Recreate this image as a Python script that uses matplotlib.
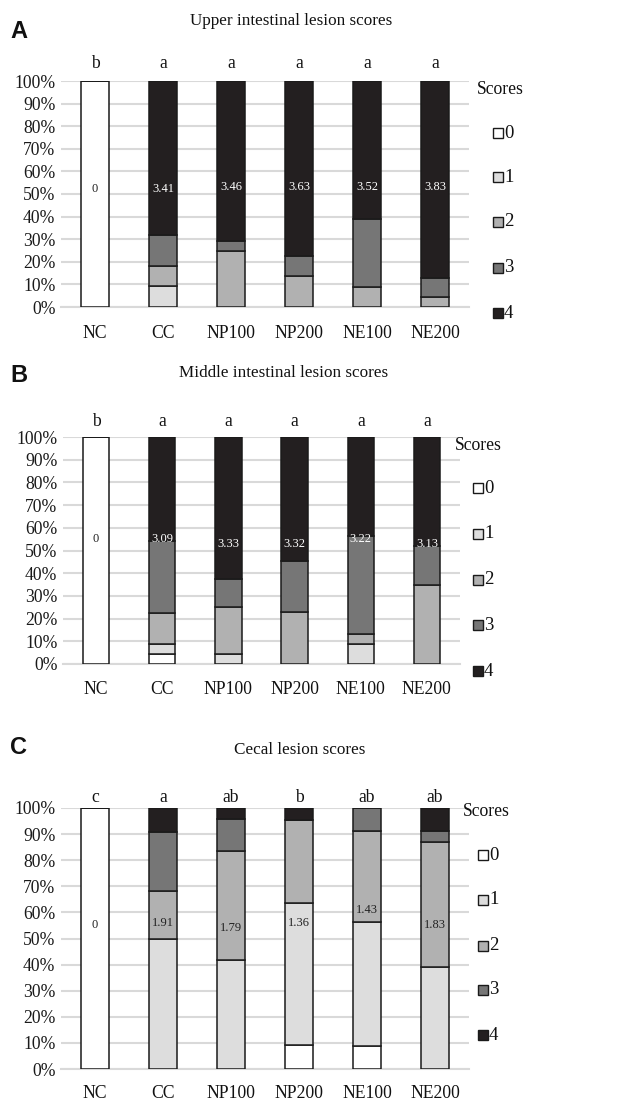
import matplotlib
matplotlib.use("Agg")
import matplotlib.pyplot as plt
from matplotlib.patches import Rectangle
import numpy as np

W, H = 642, 1103

groups = ["NC", "CC", "NP100", "NP200", "NE100", "NE200"]
scores = ["0", "1", "2", "3", "4"]

# percent of birds per score (0..4) for each group
upper_s0 = [100, 0, 0, 0, 0, 0]
upper_s1 = [0, 9.1, 0, 0, 0, 0]
upper_s2 = [0, 9.1, 25.0, 13.6, 8.7, 4.3]
upper_s3 = [0, 13.6, 4.2, 9.1, 30.4, 8.7]
upper_s4 = [0, 68.2, 70.8, 77.3, 60.9, 87.0]
upper_means = ["0", "3.41", "3.46", "3.63", "3.52", "3.83"]
upper_letters = ["b", "a", "a", "a", "a", "a"]

middle_s0 = [100, 4.5, 0, 0, 0, 0]
middle_s1 = [0, 4.5, 4.2, 0, 8.7, 0]
middle_s2 = [0, 13.6, 20.8, 22.7, 4.3, 34.8]
middle_s3 = [0, 31.8, 12.5, 22.7, 43.5, 17.4]
middle_s4 = [0, 45.5, 62.5, 54.5, 43.5, 47.8]
middle_means = ["0", "3.09", "3.33", "3.32", "3.22", "3.13"]
middle_letters = ["b", "a", "a", "a", "a", "a"]

cecal_s0 = [100, 0, 0, 9.1, 8.7, 0]
cecal_s1 = [0, 50.0, 41.7, 54.5, 47.8, 39.1]
cecal_s2 = [0, 18.2, 41.7, 31.8, 34.8, 47.8]
cecal_s3 = [0, 22.7, 12.5, 0, 8.7, 4.3]
cecal_s4 = [0, 9.1, 4.2, 4.5, 0, 8.7]
cecal_means = ["0", "1.91", "1.79", "1.36", "1.43", "1.83"]
cecal_letters = ["c", "a", "ab", "b", "ab", "ab"]

colors = ["#ffffff", "#dddddd", "#b1b1b1", "#767676", "#231f20"]

# layout (pixels)
panels = [
    dict(title="Upper intestinal lesion scores", letter="A",
         data=[upper_s0, upper_s1, upper_s2, upper_s3, upper_s4],
         means=upper_means, sig=upper_letters,
         ax_px=(61, 81, 469, 307), title_xy=(291, 21), letter_xy=(10, 32),
         sig_y=63, cat_y=333, label_y=[52, 52, 53, 53, 53, 53],
         scores_xy=(477, 90), leg_x=493, leg_y=[133, 177, 222, 268, 313]),
    dict(title="Middle intestinal lesion scores", letter="B",
         data=[middle_s0, middle_s1, middle_s2, middle_s3, middle_s4],
         means=middle_means, sig=middle_letters,
         ax_px=(63, 437, 460, 664), title_xy=(284, 373), letter_xy=(10, 375),
         sig_y=422, cat_y=690, label_y=[55, 55, 53, 53, 55, 53],
         scores_xy=(455, 445), leg_x=473, leg_y=[488, 534, 580, 625, 671]),
    dict(title="Cecal lesion scores", letter="C",
         data=[cecal_s0, cecal_s1, cecal_s2, cecal_s3, cecal_s4],
         means=cecal_means, sig=cecal_letters,
         ax_px=(61, 808, 469, 1069), title_xy=(300, 750), letter_xy=(10, 748),
         sig_y=798, cat_y=1094, label_y=[55, 56, 54, 56, 61, 55],
         scores_xy=(463, 812), leg_x=478, leg_y=[855, 900, 946, 990, 1035]),
]

serif = ["Liberation Serif", "DejaVu Serif"]
fig = plt.figure(figsize=(W / 100, H / 100), dpi=100)
fig.patch.set_facecolor("white")

def fx(x):
    return x / W

def fy(y):
    return 1 - y / H

x = np.arange(len(groups))
for p in panels:
    l, t, r, b = p["ax_px"]
    ax = fig.add_axes([fx(l), fy(b), (r - l) / W, (b - t) / H])
    bottom = np.zeros(len(groups))
    for k, vals in enumerate(p["data"]):
        v = np.array(vals, dtype=float)
        ax.bar(x, v, width=0.4, bottom=bottom, color=colors[k],
               edgecolor="#1a1a1a", linewidth=1.1, zorder=3)
        bottom += v
    ax.set_xlim(-0.5, 5.5)
    ax.set_ylim(0, 100)
    ax.set_yticks(np.arange(0, 101, 10))
    ax.set_yticklabels([f"{v}%" for v in range(0, 101, 10)], fontsize=12.7,
                       family=serif, color="#1a1a1a")
    ax.set_xticks([])
    ax.tick_params(axis="y", length=0, pad=4)
    for s in ["top", "right", "left"]:
        ax.spines[s].set_visible(False)
    ax.spines["bottom"].set_color("#d9d9d9")
    ax.spines["bottom"].set_linewidth(1.5)
    ax.yaxis.grid(True, color="#d9d9d9", linewidth=1.5, zorder=0)
    ax.set_axisbelow(True)
    # mean labels
    for i, m in enumerate(p["means"]):
        yy = p["label_y"][i]
        cum = np.cumsum([p["data"][k][i] for k in range(5)])
        seg = int(np.searchsorted(cum, yy))
        seg = min(seg, 4)
        tc = "white" if seg == 4 or (seg == 3 and abs(cum[3] - yy) < 2) else "#222222"
        ax.text(i, yy, m, ha="center", va="center", fontsize=9,
                family=serif, color=tc, zorder=5)
    # category labels & significance letters
    for i, g in enumerate(groups):
        xp = l + (i + 0.5) * (r - l) / 6
        fig.text(fx(xp), fy(p["cat_y"]), g, ha="center", va="center",
                 fontsize=12.7, family=serif, color="#111111")
        fig.text(fx(xp), fy(p["sig_y"]), p["sig"][i], ha="center", va="center",
                 fontsize=12.7, family=serif, color="#111111")
    # title and panel letter
    fig.text(fx(p["title_xy"][0]), fy(p["title_xy"][1]), p["title"],
             ha="center", va="center", fontsize=12.3, family=serif,
             color="#111111")
    fig.text(fx(p["letter_xy"][0]), fy(p["letter_xy"][1]), p["letter"],
             ha="left", va="center", fontsize=17, fontweight="bold",
             family=["Liberation Sans", "DejaVu Sans"], color="#111111")
    # legend
    fig.text(fx(p["scores_xy"][0]), fy(p["scores_xy"][1]), "Scores",
             ha="left", va="center", fontsize=12.7, family=serif,
             color="#111111")
    sz = 10
    for k, s in enumerate(scores):
        yc = p["leg_y"][k]
        rect = Rectangle((fx(p["leg_x"]), fy(yc + sz / 2)), sz / W, sz / H,
                         transform=fig.transFigure, facecolor=colors[k],
                         edgecolor="#1a1a1a", linewidth=1.0)
        fig.patches.append(rect)
        fig.text(fx(p["leg_x"] + sz + 1), fy(yc), s, ha="left", va="center",
                 fontsize=13.5, family=serif, color="#111111")

fig.savefig("out.png", dpi=100, facecolor="white")
